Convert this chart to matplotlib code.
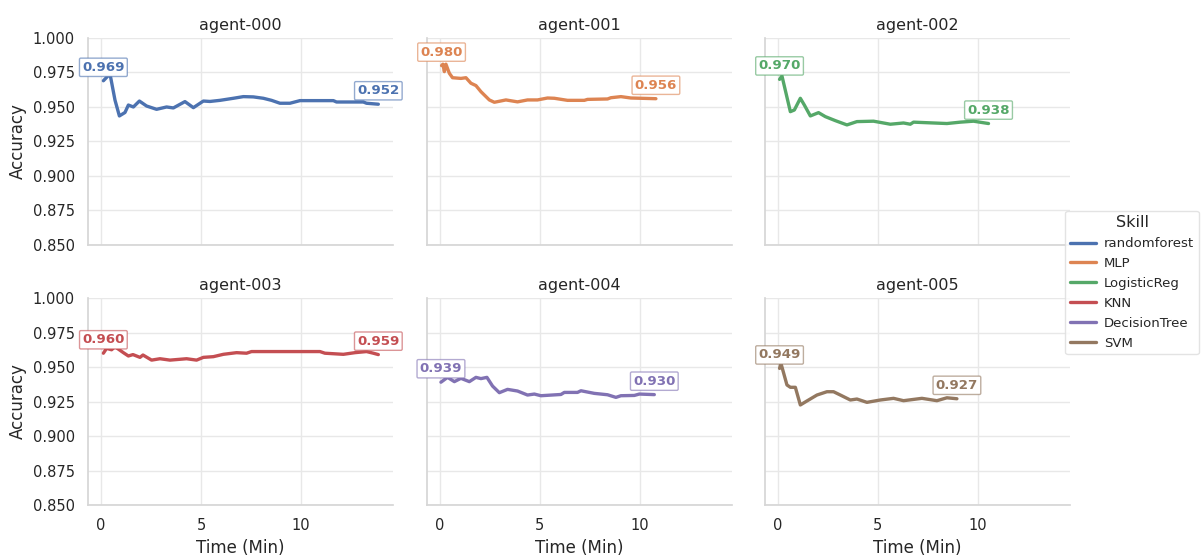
import matplotlib
matplotlib.use("Agg")
import matplotlib.pyplot as plt
import seaborn as sns
from matplotlib.ticker import FormatStrFormatter
from matplotlib.colors import to_rgba
from matplotlib.lines import Line2D

# Data
agents = ["agent-000", "agent-001", "agent-002", "agent-003", "agent-004", "agent-005"]
skills = ["randomforest", "MLP", "LogisticReg", "KNN", "DecisionTree", "SVM"]

x_000 = [0.12, 0.45, 0.7, 0.92, 1.2, 1.37, 1.62, 1.92, 2.28, 2.78, 3.28, 3.62, 4.2, 4.62, 5.12, 5.45,
         5.95, 6.62, 7.12, 7.62, 8.12, 8.53, 8.95, 9.45, 9.95, 11.62, 11.78, 13.12, 13.28, 13.87]
y_000 = [0.969, 0.974, 0.955, 0.9435, 0.946, 0.9514, 0.950, 0.9543, 0.9507, 0.9483, 0.950, 0.9493,
         0.9539, 0.9495, 0.9543, 0.954, 0.9548, 0.9563, 0.9575, 0.9573, 0.9563, 0.9548, 0.9527,
         0.9527, 0.9546, 0.9546, 0.9536, 0.9536, 0.9527, 0.952]

x_001 = [0.08, 0.15, 0.22, 0.3, 0.47, 0.63, 1.05, 1.3, 1.55, 1.8, 2.05, 2.47, 2.72, 3.3, 3.88, 4.38,
         4.88, 5.38, 5.72, 6.38, 7.22, 7.38, 8.38, 8.55, 9.05, 9.55, 10.8]
y_001 = [0.980, 0.981, 0.9756, 0.981, 0.9744, 0.9712, 0.9707, 0.9712, 0.9672, 0.9655, 0.9611, 0.9551,
         0.9534, 0.9551, 0.9537, 0.9551, 0.9551, 0.9565, 0.9563, 0.9548, 0.9548, 0.9555, 0.9558,
         0.9567, 0.9575, 0.9565, 0.956]

x_002 = [0.08, 0.2, 0.62, 0.82, 1.12, 1.32, 1.62, 2.03, 2.37, 2.87, 3.45, 3.95, 4.78, 5.62, 6.28,
         6.62, 6.78, 8.45, 9.12, 9.78, 10.53]
y_002 = [0.970, 0.9725, 0.9466, 0.9478, 0.9563, 0.9514, 0.9435, 0.9459, 0.943, 0.9401, 0.937, 0.9394,
         0.9397, 0.9375, 0.9384, 0.9375, 0.939, 0.938, 0.939, 0.9397, 0.938]

x_003 = [0.12, 0.28, 0.53, 0.7, 1.12, 1.37, 1.6, 1.95, 2.1, 2.53, 2.95, 3.45, 4.28, 4.78, 5.12, 5.62,
         6.12, 6.78, 7.28, 7.53, 10.95, 11.2, 12.12, 12.7, 13.28, 13.62, 13.87]
y_003 = [0.960, 0.9635, 0.9625, 0.9647, 0.9604, 0.958, 0.959, 0.957, 0.9587, 0.955, 0.956, 0.955,
         0.956, 0.955, 0.957, 0.9575, 0.9592, 0.9604, 0.960, 0.9612, 0.9612, 0.960, 0.9592, 0.9604,
         0.9612, 0.960, 0.959]

x_004 = [0.05, 0.38, 0.72, 1.05, 1.47, 1.8, 2.05, 2.35, 2.63, 2.97, 3.38, 3.88, 4.38, 4.72, 5.05,
         6.05, 6.22, 6.88, 7.05, 7.72, 8.38, 8.8, 9.05, 9.72, 9.97, 10.72]
y_004 = [0.939, 0.9425, 0.9394, 0.9418, 0.9394, 0.9425, 0.9416, 0.9425, 0.9362, 0.9314, 0.9338,
         0.9326, 0.9297, 0.9304, 0.9292, 0.9301, 0.9316, 0.9316, 0.9328, 0.9309, 0.9299, 0.928,
         0.9292, 0.9294, 0.9304, 0.930]

x_005 = [0.08, 0.15, 0.45, 0.62, 0.87, 1.12, 1.45, 1.95, 2.45, 2.78, 3.12, 3.62, 3.95, 4.45, 5.12,
         5.78, 6.28, 7.2, 7.95, 8.45, 8.95]
y_005 = [0.949, 0.9526, 0.937, 0.9353, 0.9353, 0.9225, 0.9254, 0.9297, 0.9321, 0.9321, 0.9297,
         0.9261, 0.9268, 0.9244, 0.9261, 0.9273, 0.9256, 0.9273, 0.9256, 0.9277, 0.927]

xs = [x_000, x_001, x_002, x_003, x_004, x_005]
ys = [y_000, y_001, y_002, y_003, y_004, y_005]

sns.set_theme(style="whitegrid", rc={"grid.color": "#e8e8e8", "axes.edgecolor": "#d6d6d6"})
colors = sns.color_palette("deep", 6)

fig = plt.figure(figsize=(12.02, 5.56), dpi=100)

lefts = [0.0732, 0.3552, 0.6364]
bottoms = [0.5594, 0.0917]
w, h = 0.2537, 0.3723

for i, agent in enumerate(agents):
    row, col = divmod(i, 3)
    ax = fig.add_axes([lefts[col], bottoms[row], w, h])
    c = colors[i]
    ax.plot(xs[i], ys[i], color=c, linewidth=2.4)

    # label first and last value
    for xv, yv in [(xs[i][0], ys[i][0]), (xs[i][-1], ys[i][-1])]:
        ax.annotate(f"{yv:.3f}", (xv, yv), xytext=(0, 5), textcoords="offset points",
                    ha="center", va="bottom", fontsize=9.6, fontweight="bold", color=c,
                    bbox=dict(boxstyle="round,pad=0.2,rounding_size=0.1", fc="white",
                              ec=to_rgba(c, 0.6), lw=1))

    ax.set_xlim(-0.65, 14.6)
    ax.set_ylim(0.85, 1.0)
    ax.set_xticks([0, 5, 10])
    ax.set_yticks([0.85, 0.875, 0.9, 0.925, 0.95, 0.975, 1.0])
    ax.yaxis.set_major_formatter(FormatStrFormatter("%.3f"))
    ax.tick_params(labelsize=10.5)
    ax.set_title(agent, fontsize=11.5)
    if col == 0:
        ax.set_ylabel("Accuracy", fontsize=12)
    else:
        ax.tick_params(labelleft=False)
    if row == 1:
        ax.set_xlabel("Time (Min)", fontsize=12)
    else:
        ax.tick_params(labelbottom=False)
    sns.despine(ax=ax)

handles = [Line2D([0], [0], color=colors[k], linewidth=2.4) for k in range(6)]
leg = fig.legend(handles, skills, title="Skill", loc="center left",
                 bbox_to_anchor=(0.884, 0.492), fontsize=9.5, title_fontsize=11.5,
                 frameon=True, handlelength=2.0, handletextpad=0.6, borderpad=0.35,
                 borderaxespad=0.2, labelspacing=0.52)
leg.get_frame().set_edgecolor("#dddddd")

fig.savefig("out.png", dpi=100)
